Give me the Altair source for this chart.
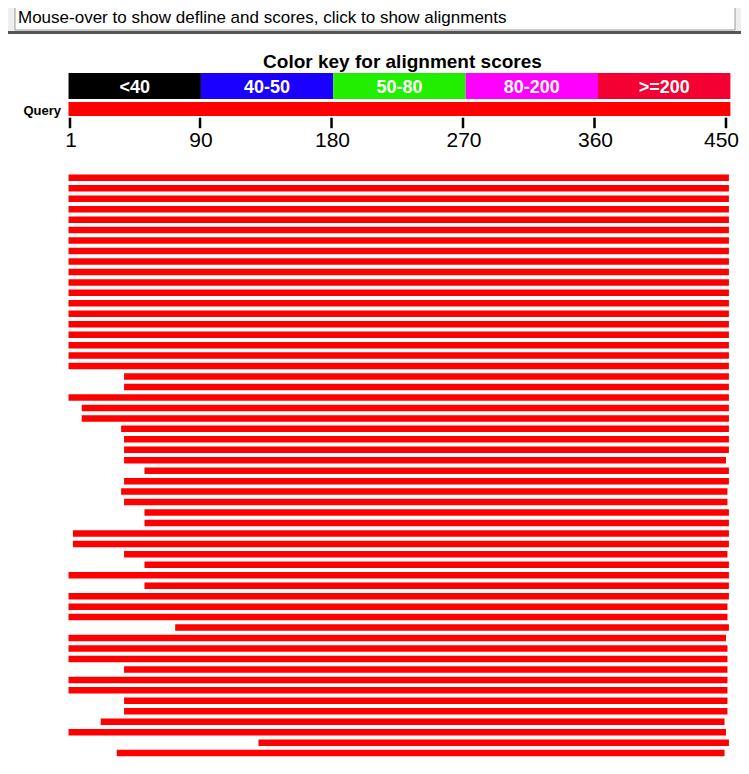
import altair as alt
import pandas as pd

# ---------------- data ----------------
header_text = "Mouse-over to show defline and scores, click to show alignments"
title_text = "Color key for alignment scores"

key_labels = ["<40", "40-50", "50-80", "80-200", ">=200"]
key_colors = ["#000000", "#1a00ff", "#22ee00", "#ff00ff", "#f50032"]
key_start = [0, 90.6, 181.2, 271.8, 362.4]
key_end = [90.6, 181.2, 271.8, 362.4, 453]

query_label = "Query"
query_start = [0]
query_end = [453]

tick_values = [1, 90, 180, 270, 360, 450]
tick_labels = ["1", "90", "180", "270", "360", "450"]

hit_start = [0] * 19 + [
    38, 38, 0, 9, 9, 36, 38, 38, 38, 52,
    38, 36, 38, 52, 52, 3, 3, 38, 52, 0,
    52, 0, 0, 0, 73, 0, 0, 0, 38, 0,
    0, 38, 38, 22, 0, 130, 33,
]
hit_end = [452] * 26 + [
    452, 450, 452, 452, 451, 451, 452, 452, 452, 452,
    451, 452, 452, 452, 452, 451, 451, 452, 450, 451,
    451, 451, 451, 451, 451, 451, 449, 450, 452, 449,
]
hit_row = list(range(1, len(hit_start) + 1))

# ---------------- tables ----------------
key_df = pd.DataFrame({
    "label": key_labels,
    "start": key_start,
    "end": key_end,
})
key_df["mid"] = (key_df["start"] + key_df["end"]) / 2

title_df = pd.DataFrame({"text": [title_text],
                         "mid": [(key_start[0] + key_end[-1]) / 2]})
query_df = pd.DataFrame({"start": query_start, "end": query_end})
ticks_df = pd.DataFrame({"pos": tick_values, "label": tick_labels})
hits_df = pd.DataFrame({"row": hit_row, "start": hit_start, "end": hit_end})
one = pd.DataFrame({"t": [header_text]})

W, H = 733, 758
FONT = "Liberation Sans"

xscale = alt.Scale(domain=[-41.436, 460.27], nice=False, zero=False)
yscale = alt.Scale(domain=[-14.755, 56.755], nice=False, zero=False, reverse=True)

# ---------------- header (page decoration) ----------------
hdr_bg = alt.Chart(one).mark_rect(color="#eeeeee").encode(
    x=alt.value(0), x2=alt.value(W), y=alt.value(0), y2=alt.value(23))
hdr_box = alt.Chart(one).mark_rect(fill="white", stroke="#9a9a9a", strokeWidth=1).encode(
    x=alt.value(7), x2=alt.value(727), y=alt.value(-5), y2=alt.value(22))
hdr_text = alt.Chart(one).mark_text(
    align="left", baseline="middle", fontSize=17, font=FONT, color="black"
).encode(x=alt.value(10), y=alt.value(10), text="t:N")
hdr_line = alt.Chart(one).mark_rect(color="#555555").encode(
    x=alt.value(0), x2=alt.value(W), y=alt.value(23), y2=alt.value(26))

# ---------------- color key ----------------
title = alt.Chart(title_df).mark_text(
    fontSize=19, fontWeight="bold", font=FONT, color="black", baseline="middle", dx=3
).encode(x=alt.X("mid:Q", scale=xscale, axis=None), y=alt.value(53.5), text="text:N")

key_rect = alt.Chart(key_df).mark_rect().encode(
    x=alt.X("start:Q", scale=xscale, axis=None),
    x2="end:Q",
    y=alt.value(65), y2=alt.value(91),
    color=alt.Color("label:N", scale=alt.Scale(domain=key_labels, range=key_colors), legend=None),
)
key_text = alt.Chart(key_df).mark_text(
    fontSize=18, fontWeight="bold", font=FONT, color="white", baseline="middle"
).encode(x=alt.X("mid:Q", scale=xscale, axis=None), y=alt.value(79.5), text="label:N")

# ---------------- query bar + ruler ----------------
query_bar = alt.Chart(query_df).mark_rect(color="#ff0000").encode(
    x=alt.X("start:Q", scale=xscale, axis=None),
    x2="end:Q",
    y=alt.value(94), y2=alt.value(108),
)
query_text = alt.Chart(one).mark_text(
    align="right", baseline="middle", fontSize=13, fontWeight="bold", font=FONT, color="black"
).encode(x=alt.value(53), y=alt.value(102.5), text=alt.value(query_label))

tick_marks = alt.Chart(ticks_df).mark_rule(strokeWidth=2.5, color="black").encode(
    x=alt.X("pos:Q", scale=xscale, axis=None),
    y=alt.value(109.7), y2=alt.value(120.2),
)
tick_text = alt.Chart(ticks_df.iloc[:-1]).mark_text(
    fontSize=21, font=FONT, color="black", baseline="top", align="center", dx=1
).encode(
    x=alt.X("pos:Q", scale=xscale, axis=None),
    y=alt.value(122.1), text="label:N",
)
tick_text_last = alt.Chart(ticks_df.iloc[-1:]).mark_text(
    fontSize=21, font=FONT, color="black", baseline="top", align="right", dx=13
).encode(
    x=alt.X("pos:Q", scale=xscale, axis=None),
    y=alt.value(122.1), text="label:N",
)

# ---------------- hits ----------------
hits = alt.Chart(hits_df).mark_bar(orient="horizontal", size=6.5, color="#ff0000").encode(
    x=alt.X("start:Q", scale=xscale, axis=None),
    x2="end:Q",
    y=alt.Y("row:Q", scale=yscale, axis=None),
)

chart = alt.layer(
    hdr_bg, hdr_box, hdr_text, hdr_line,
    title, key_rect, key_text,
    query_bar, query_text, tick_marks, tick_text, tick_text_last,
    hits,
).properties(
    width=W, height=H, padding=0,
    autosize=alt.AutoSizeParams(type="none"),
    background="white",
).configure_view(stroke=None)

chart.save("out.html", embed_options={"renderer": "svg", "actions": False})
